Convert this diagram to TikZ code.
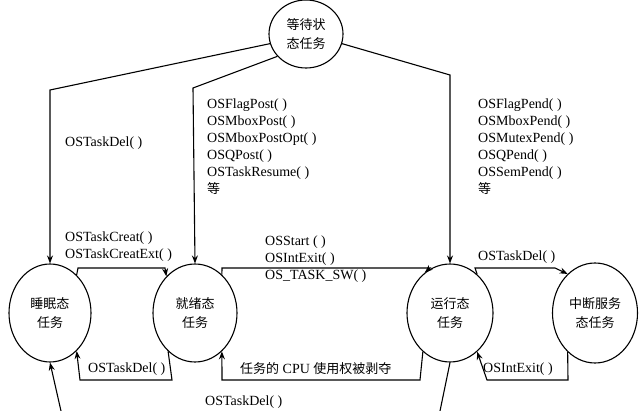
\documentclass[tikz,border=0pt]{standalone}
\usepackage{fontspec}
\setmainfont{Liberation Serif}
\newfontfamily\cjk{Noto Sans CJK SC}
\usetikzlibrary{arrows.meta,shapes.geometric}
\begin{document}
\begin{tikzpicture}[x=1pt,y=-1pt,
  st/.style={draw,line width=1.1pt,ellipse,inner sep=0pt,font=\cjk\fontsize{13}{19}\selectfont,align=center},
  ar/.style={line width=1.1pt,-{Stealth[length=8pt,width=6pt]}},
  ln/.style={line width=1.1pt},
  lb/.style={font=\fontsize{14}{17}\selectfont,anchor=west,inner sep=0pt,align=left}]
\useasboundingbox (0,0) rectangle (640,411);
\node[st,minimum width=74pt,minimum height=68pt] (w) at (306,34) {等待状\\态任务};
\node[st,minimum width=82pt,minimum height=98pt] (s) at (50,313) {睡眠态\\任务};
\node[st,minimum width=84pt,minimum height=98pt] (r) at (195,313) {就绪态\\任务};
\node[st,minimum width=86pt,minimum height=98pt] (u) at (450,313) {运行态\\任务};
\node[st,minimum width=85pt,minimum height=100pt] (i) at (595,313) {中断服务\\态任务};
% wait -> sleep / ready / run
\draw[ar] (w.195) -- (50,90) -- (s.north);
\draw[ar] (w.218) -- (193,88) -- (r.north);
\draw[ar] (w.-15) -- (450,75) -- (u.north);
% top arrows
\draw[ar] (s.55) -- (78,268) -- (165,268) -- (r.128);
\draw[ar] (r.55) -- (222,268) -- (430,268) -- (u.122);
\draw[ar] (u.55) -- (475,268) -- (555,268) -- (i.125);
% bottom arrows
\draw[ar] (i.235) -- (568,380) -- (487,380) -- (u.-55);
\draw[ar] (u.235) -- (420,380) -- (222,380) -- (r.-55);
\draw[ar] (r.235) -- (172,380) -- (80,380) -- (s.-55);
\coordinate (b1) at (61,411);
\coordinate (b2) at (440,411);
\draw[ar] (b1) -- (s.south);
\draw[ln] (u.south) -- (b2);
% labels
\node[lb] (l1) at (65,143) {OSTaskDel( )};
\node[lb,anchor=north west] (l2) at (207,99) {OSFlagPost( )\\OSMboxPost( )\\OSMboxPostOpt( )\\OSQPost( )\\OSTaskResume( )\\{\cjk\fontsize{13}{17}\selectfont 等}};
\node[lb,anchor=north west] (l3) at (478,99) {OSFlagPend( )\\OSMboxPend( )\\OSMutexPend( )\\OSQPend( )\\OSSemPend( )\\{\cjk\fontsize{13}{17}\selectfont 等}};
\node[lb,anchor=north west] (l4) at (65,232) {OSTaskCreat( )\\OSTaskCreatExt( )};
\node[lb,anchor=north west] (l5) at (265,236) {OSStart ( )\\OSIntExit( )\\OS\_TASK\_SW( )};
\node[lb] (l6) at (478,257) {OSTaskDel( )};
\node[lb] (l7) at (88,369) {OSTaskDel( )};
\node[lb] (l8) at (240,369) {{\cjk\fontsize{13}{17}\selectfont 任务的} CPU {\cjk\fontsize{13}{17}\selectfont 使用权被剥夺}};
\node[lb] (l9) at (483,369) {OSIntExit( )};
\node[lb] (l10) at (205,402) {OSTaskDel( )};
\end{tikzpicture}
\end{document}
